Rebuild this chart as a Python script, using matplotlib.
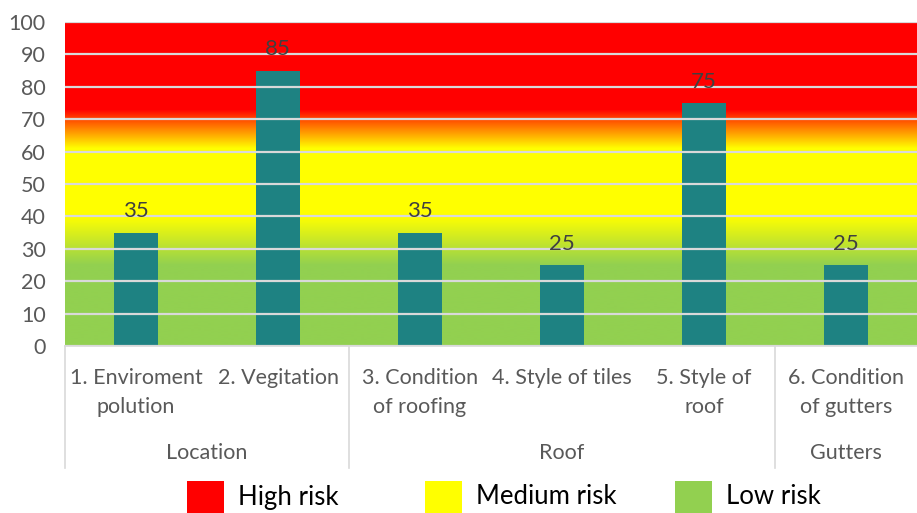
import numpy as np
import matplotlib
matplotlib.use("Agg")
import matplotlib.pyplot as plt
from matplotlib.patches import Rectangle
from matplotlib.colors import to_rgb

# Risk scores per inspected item
items = ["1. Enviroment\npolution", "2. Vegitation", "3. Condition\nof roofing",
         "4. Style of tiles", "5. Style of\nroof", "6. Condition\nof gutters"]
scores = [35, 85, 35, 25, 75, 25]

# Item groups (label, first item index, last item index)
groups = ["Location", "Roof", "Gutters"]
group_first = [0, 2, 5]
group_last = [1, 4, 5]

legend_labels = ["High risk", "Medium risk", "Low risk"]
legend_colors = ["#FF0000", "#FFFF00", "#92D050"]

yticks = list(range(0, 101, 10))

W, H, DPI = 917, 513, 100
fig = plt.figure(figsize=(W / DPI, H / DPI), dpi=DPI)
ax_l, ax_r, ax_t, ax_b = 65, 917, 22, 346
ax = fig.add_axes([ax_l / W, (H - ax_b) / H, (ax_r - ax_l) / W, (ax_b - ax_t) / H])

FONT = "Lato"
GRAY = "#595959"

# Background colour band: green (low) -> yellow (medium) -> red (high)
stops_v = [0, 25, 40, 61, 66, 70, 73, 100]
stops_c = ["#92D050", "#92D050", "#FFFF00", "#FFFF00", "#FF9A00", "#FF4A00", "#FF0000", "#FF0000"]
vals = np.linspace(0, 100, 800)
rgb = np.array([to_rgb(c) for c in stops_c])
band = np.stack([np.interp(vals, stops_v, rgb[:, k]) for k in range(3)], axis=-1)
n = len(items)
ax.imshow(band[:, None, :], extent=[-0.5, n - 0.5, 0, 100], origin="lower",
          aspect="auto", interpolation="bilinear", zorder=0)

ax.set_xlim(-0.5, n - 0.5)
ax.set_ylim(0, 100)
ax.set_yticks(yticks)
ax.yaxis.grid(True, color="#D9D9D9", linewidth=1.6, zorder=1)
ax.set_axisbelow(False)
for gl in ax.get_ygridlines():
    gl.set_zorder(1)

x = np.arange(n)
bars = ax.bar(x, scores, width=0.31, color="#1E8282", zorder=2)
for xi, v in zip(x, scores):
    ax.annotate(f"{v}", (xi, v), xytext=(0, 8), textcoords="offset points",
                ha="center", va="bottom", fontsize=16, color="#404040",
                family=FONT, zorder=3)

for s in ["top", "right", "left"]:
    ax.spines[s].set_visible(False)
ax.spines["bottom"].set_color("#D9D9D9")
ax.spines["bottom"].set_linewidth(1.2)
ax.tick_params(axis="y", length=0, pad=14, labelsize=15.5, labelcolor=GRAY)
for lab in ax.get_yticklabels():
    lab.set_family(FONT)
ax.set_xticks([])

# Two-level category axis
trans = ax.get_xaxis_transform()
hpx = ax_b - ax_t
def yfrac(py):
    return (ax_b - py) / hpx

line_y = [378, 407]
for xi, lab in zip(x, items):
    for k, part in enumerate(lab.split("\n")):
        ax.text(xi, yfrac(line_y[k]), part, transform=trans, ha="center", va="center",
                fontsize=15.5, color=GRAY, family=FONT, clip_on=False)

for g, a, b in zip(groups, group_first, group_last):
    right = min(b + 0.5, n - 0.5)
    ax.text((a - 0.5 + right) / 2, yfrac(453), g, transform=trans, ha="center",
            va="center", fontsize=15.5, color=GRAY, family=FONT, clip_on=False)

sep_x = [group_first[0] - 0.5] + [b + 0.5 for b in group_last[:-1]]
for sx in sep_x:
    ax.plot([sx, sx], [0, yfrac(468)], transform=trans, color="#D9D9D9",
            linewidth=1.2, clip_on=False)

# Legend
leg_x = [187, 425, 675]
for lx, lab, col in zip(leg_x, legend_labels, legend_colors):
    fig.add_artist(Rectangle((lx / W, 0), 37 / W, (H - 481) / H,
                             transform=fig.transFigure, facecolor=col, edgecolor="none"))
    fig.text((lx + 51) / W, (H - 497) / H, lab, ha="left", va="center",
             fontsize=18.5, color="#000000", family=FONT)

fig.savefig("out.png", dpi=DPI)
